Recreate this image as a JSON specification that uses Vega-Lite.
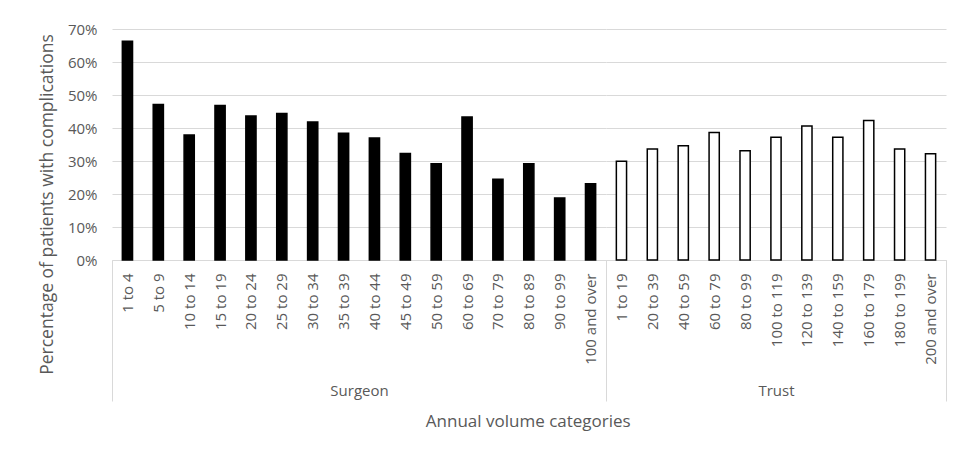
{
  "$schema": "https://vega.github.io/schema/vega-lite/v6.json",
  "background": "white",
  "padding": {"left": 37, "top": 22, "right": 5, "bottom": 5},
  "config": {
    "font": "Open Sans",
    "view": {"stroke": null},
    "axis": {
      "labelColor": "#595959",
      "titleColor": "#595959",
      "labelFontSize": 15,
      "titleFontWeight": "normal",
      "gridColor": "#d9d9d9",
      "domainColor": "#d9d9d9"
    }
  },
  "data": {
    "values": [
      {"group": "Surgeon", "category": "1 to 4", "pct": 0.663},
      {"group": "Surgeon", "category": "5 to 9", "pct": 0.471},
      {"group": "Surgeon", "category": "10 to 14", "pct": 0.379},
      {"group": "Surgeon", "category": "15 to 19", "pct": 0.468},
      {"group": "Surgeon", "category": "20 to 24", "pct": 0.436},
      {"group": "Surgeon", "category": "25 to 29", "pct": 0.444},
      {"group": "Surgeon", "category": "30 to 34", "pct": 0.418},
      {"group": "Surgeon", "category": "35 to 39", "pct": 0.384},
      {"group": "Surgeon", "category": "40 to 44", "pct": 0.370},
      {"group": "Surgeon", "category": "45 to 49", "pct": 0.323},
      {"group": "Surgeon", "category": "50 to 59", "pct": 0.292},
      {"group": "Surgeon", "category": "60 to 69", "pct": 0.433},
      {"group": "Surgeon", "category": "70 to 79", "pct": 0.245},
      {"group": "Surgeon", "category": "80 to 89", "pct": 0.292},
      {"group": "Surgeon", "category": "90 to 99", "pct": 0.188},
      {"group": "Surgeon", "category": "100 and over", "pct": 0.231},
      {"group": "Trust", "category": "1 to 19", "pct": 0.299},
      {"group": "Trust", "category": "20 to 39", "pct": 0.336},
      {"group": "Trust", "category": "40 to 59", "pct": 0.346},
      {"group": "Trust", "category": "60 to 79", "pct": 0.386},
      {"group": "Trust", "category": "80 to 99", "pct": 0.331},
      {"group": "Trust", "category": "100 to 119", "pct": 0.372},
      {"group": "Trust", "category": "120 to 139", "pct": 0.406},
      {"group": "Trust", "category": "140 to 159", "pct": 0.372},
      {"group": "Trust", "category": "160 to 179", "pct": 0.423},
      {"group": "Trust", "category": "180 to 199", "pct": 0.336},
      {"group": "Trust", "category": "200 and over", "pct": 0.322}
    ]
  },
  "title": {
    "text": "Annual volume categories",
    "orient": "bottom",
    "anchor": "middle",
    "fontSize": 17,
    "fontWeight": "normal",
    "color": "#595959",
    "offset": 12,
    "dx": 36
  },
  "spacing": 0,
  "bounds": "flush",
  "hconcat": [
    {
      "width": 494,
      "height": 231,
      "transform": [{"filter": "datum.group === 'Surgeon'"}],
      "mark": {"type": "bar", "stroke": "#000000", "strokeWidth": 1.5, "width": {"band": 0.33}},
      "encoding": {
        "x": {
          "field": "category",
          "type": "nominal",
          "sort": null,
          "scale": {"paddingInner": 0, "paddingOuter": 0},
          "axis": {
            "title": "Surgeon",
            "titleFontSize": 15,
            "titleY": 130,
            "titleBaseline": "middle",
            "labelAngle": -90,
            "labelPadding": -128,
            "tickBand": "extent",
            "tickSize": 141,
            "tickColor": {"condition": {"test": "datum.extra || datum.value === '100 and over'", "value": "#d9d9d9"}, "value": "transparent"}
          }
        },
        "y": {
          "field": "pct",
          "type": "quantitative",
          "scale": {"domain": [0, 0.7]},
          "axis": {
            "title": "Percentage of patients with complications",
            "titleFontSize": 17.5,
            "titleX": -65,
            "titleY": 175,
            "titleBaseline": "middle",
            "titleAlign": "center",
            "format": ".0%",
            "values": [0, 0.1, 0.2, 0.3, 0.4, 0.5, 0.6, 0.7],
            "ticks": false,
            "domain": false,
            "labelPadding": 15,
            "grid": true
          }
        },
        "fill": {"field": "group", "type": "nominal", "scale": {"domain": ["Surgeon", "Trust"], "range": ["#000000", "#ffffff"]}, "legend": null}
      }
    },
    {
      "width": 340,
      "height": 231,
      "transform": [{"filter": "datum.group === 'Trust'"}],
      "mark": {"type": "bar", "stroke": "#000000", "strokeWidth": 1.5, "width": {"band": 0.33}},
      "encoding": {
        "x": {
          "field": "category",
          "type": "nominal",
          "sort": null,
          "scale": {"paddingInner": 0, "paddingOuter": 0},
          "axis": {
            "title": "Trust",
            "titleFontSize": 15,
            "titleY": 130,
            "titleBaseline": "middle",
            "labelAngle": -90,
            "labelPadding": -128,
            "tickBand": "extent",
            "tickSize": 141,
            "tickColor": {"condition": {"test": "datum.value === '200 and over'", "value": "#d9d9d9"}, "value": "transparent"}
          }
        },
        "y": {
          "field": "pct",
          "type": "quantitative",
          "scale": {"domain": [0, 0.7]},
          "axis": {
            "orient": "right",
            "title": null,
            "labels": false,
            "ticks": false,
            "domain": false,
            "minExtent": 0,
            "values": [0, 0.1, 0.2, 0.3, 0.4, 0.5, 0.6, 0.7],
            "grid": true
          }
        },
        "fill": {"field": "group", "type": "nominal", "scale": {"domain": ["Surgeon", "Trust"], "range": ["#000000", "#ffffff"]}, "legend": null}
      }
    }
  ]
}
